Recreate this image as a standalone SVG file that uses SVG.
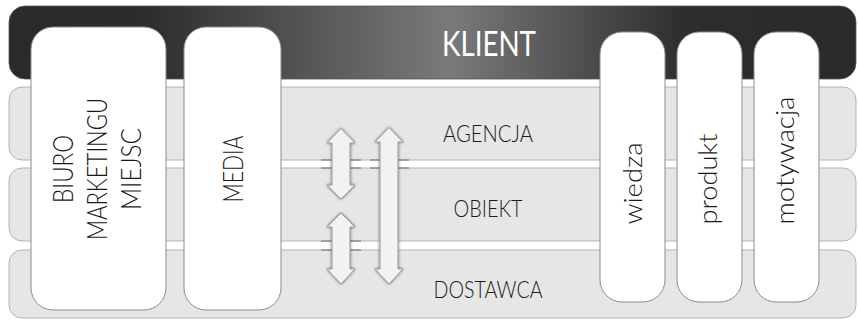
<svg xmlns="http://www.w3.org/2000/svg" width="858" height="320" viewBox="0 0 858 320">
<defs>
<linearGradient id="dark" x1="0" y1="0" x2="1" y2="0">
<stop offset="0" stop-color="#2a2a2a"/>
<stop offset="0.16" stop-color="#2c2c2c"/>
<stop offset="0.52" stop-color="#7a7a7a"/>
<stop offset="0.8" stop-color="#2d2d2d"/>
<stop offset="1" stop-color="#2a2a2a"/>
</linearGradient>
<filter id="sh" x="-30%" y="-10%" width="160%" height="120%">
<feDropShadow dx="0" dy="0" stdDeviation="1.6" flood-color="#000" flood-opacity="0.55"/>
</filter>
</defs>
<style>
.band{fill:#e6e6e6;stroke:#b4b4b4;stroke-width:1}
.node{fill:#ffffff;stroke:#8c8c8c;stroke-width:1}
.t{font-family:Lato,Roboto,"Liberation Sans",sans-serif;font-weight:300;fill:#1a1a1a}
.v{font-size:28px}
.p{font-size:25px}
.b{font-size:24px;text-anchor:middle}
.arrow{fill:#f2f2f2;stroke:#9a9a9a;stroke-width:1;filter:url(#sh)}
.seg{stroke:#6e6e6e;stroke-width:1.2}
</style>

<g id="klient">
<rect x="9" y="6" width="847" height="73" rx="16" fill="url(#dark)" stroke="#555" stroke-width="0.8"/>
<text x="489" y="56" font-family="Lato,Roboto,'Liberation Sans',sans-serif" font-size="34" fill="#ffffff" text-anchor="middle" textLength="94" lengthAdjust="spacingAndGlyphs">KLIENT</text>
</g>

<g id="agencja">
<rect class="band" x="9" y="87" width="847" height="73" rx="13"/>
<text class="t b" x="488" y="142" textLength="90" lengthAdjust="spacingAndGlyphs">AGENCJA</text>
</g>
<g id="obiekt">
<rect class="band" x="9" y="168" width="847" height="73" rx="13"/>
<text class="t b" x="488" y="217" textLength="69" lengthAdjust="spacingAndGlyphs">OBIEKT</text>
</g>
<g id="dostawca">
<rect class="band" x="9" y="250" width="847" height="68" rx="13"/>
<text class="t b" x="488" y="298" textLength="109" lengthAdjust="spacingAndGlyphs">DOSTAWCA</text>
</g>

<g id="biuro">
<rect class="node" x="31" y="27" width="135" height="283" rx="22"/>
<text class="t v" text-anchor="middle" transform="translate(73,169) rotate(-90)" textLength="68" lengthAdjust="spacingAndGlyphs">BIURO</text>
<text class="t v" text-anchor="middle" transform="translate(107,169) rotate(-90)" textLength="142" lengthAdjust="spacingAndGlyphs">MARKETINGU</text>
<text class="t v" text-anchor="middle" transform="translate(141,169) rotate(-90)" textLength="82" lengthAdjust="spacingAndGlyphs">MIEJSC</text>
</g>
<g id="media">
<rect class="node" x="184" y="27" width="97" height="283" rx="22"/>
<text class="t v" text-anchor="middle" transform="translate(243,169) rotate(-90)" textLength="67" lengthAdjust="spacingAndGlyphs">MEDIA</text>
</g>

<g id="wiedza">
<rect class="node" x="600" y="32" width="65" height="270" rx="22"/>
<text class="t p" transform="translate(642,224.5) rotate(-90)" textLength="82" lengthAdjust="spacingAndGlyphs">wiedza</text>
</g>
<g id="produkt">
<rect class="node" x="677" y="32" width="65" height="270" rx="22"/>
<text class="t p" transform="translate(716.5,224.5) rotate(-90)" textLength="91" lengthAdjust="spacingAndGlyphs">produkt</text>
</g>
<g id="motywacja">
<rect class="node" x="754" y="32" width="65" height="270" rx="22"/>
<text class="t p" transform="translate(793.5,224.5) rotate(-90)" textLength="128" lengthAdjust="spacingAndGlyphs">motywacja</text>
</g>

<g id="connectors">
<line class="seg" x1="321" y1="160" x2="361" y2="160"/>
<line class="seg" x1="321" y1="168" x2="361" y2="168"/>
<line class="seg" x1="321" y1="241" x2="361" y2="241"/>
<line class="seg" x1="321" y1="250" x2="361" y2="250"/>
<line class="seg" x1="370" y1="160" x2="409" y2="160"/>
<line class="seg" x1="370" y1="168" x2="409" y2="168"/>
<polygon class="arrow" points="341,128.5 355,143 350,143 350,185 355,185 341,199 327,185 332,185 332,143 327,143"/>
<polygon class="arrow" points="341,213 355,227 350,227 350,269 355,269 341,284 327,269 332,269 332,227 327,227"/>
<polygon class="arrow" points="389,127.5 403,142 398,142 398,269 403,269 389,284 375,269 380,269 380,142 375,142"/>
</g>
</svg>
